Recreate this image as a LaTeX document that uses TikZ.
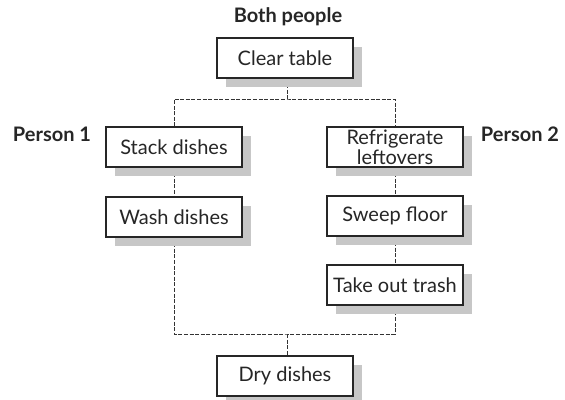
\documentclass[tikz,border=0pt]{standalone}
\usepackage{fontspec}
\setmainfont{Lato}
\usetikzlibrary{shadows,backgrounds}

\tikzset{
  task/.style={draw=black!85, line width=0.8pt, fill=white, text=black!85,
    minimum width=102pt, minimum height=30pt, inner sep=1pt, align=center,
    font=\fontsize{15}{12}\selectfont,
    drop shadow={shadow xshift=6.5pt, shadow yshift=-7pt, fill=black!22, opacity=1}},
  who/.style={text=black!85, font=\fontsize{15}{16}\selectfont\bfseries},
  link/.style={draw=black!80, line width=0.75pt, dash pattern=on 3pt off 1.2pt}
}

\begin{document}
\begin{tikzpicture}[x=0.75pt, y=-0.75pt]
\useasboundingbox (0,0) rectangle (565,400);
% labels
\node[who] (both) at (288,17) {Both people};
\node[who] (p1) at (52,134) {Person 1};
\node[who] (p2) at (520,134) {Person 2};
% tasks
\node[task] (clear) at (285,58) {Clear table};
\node[task] (stack) at (174,147) {Stack dishes};
\node[task] (wash) at (174,217) {Wash dishes};
\node[task] (fridge) at (395,147) {Refrigerate\\leftovers};
\node[task] (sweep) at (395,216) {Sweep floor};
\node[task] (trash) at (395,285) {Take out trash};
\node[task] (dry) at (285,376) {Dry dishes};
\coordinate (topbar) at (287,99);
\coordinate (botbar) at (287,334);
% connectors
\begin{scope}[on background layer]
\draw[link] (clear.south -| topbar) -- (topbar);
\draw[link] (stack.north) |- (topbar) -| (fridge.north);
\draw[link] (stack) -- (wash);
\draw[link] (fridge) -- (sweep);
\draw[link] (sweep) -- (trash);
\draw[link] (wash.south) |- (botbar) -| (trash.south);
\draw[link] (botbar) -- (dry.north -| botbar);
\end{scope}
\end{tikzpicture}
\end{document}
